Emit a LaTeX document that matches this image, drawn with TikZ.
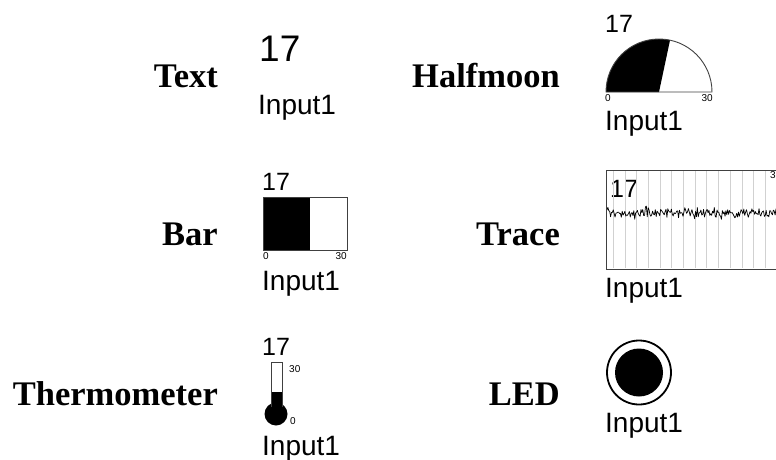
\documentclass[tikz,border=0pt]{standalone}
\usepackage{fontspec}
\setmainfont{Liberation Serif}
\newfontfamily\wfont{Liberation Sans}
\begin{document}
\begin{tikzpicture}[x=1pt,y=-1pt,
  kind/.style={font=\fontsize{34.5}{37}\selectfont\bfseries, anchor=base east, inner sep=0pt},
  bigval/.style={font=\wfont\fontsize{37}{40}\selectfont, anchor=base west, inner sep=0pt},
  val/.style={font=\wfont\fontsize{25}{28}\selectfont, anchor=base west, inner sep=0pt},
  chan/.style={font=\wfont\fontsize{28}{30}\selectfont, anchor=base west, inner sep=0pt},
  tick/.style={font=\wfont\fontsize{10}{11}\selectfont, inner sep=0pt},
  frame/.style={draw=black!75, line width=0.9pt},
  grid line/.style={draw=black!18, line width=1pt}]
\useasboundingbox (0,0) rectangle (776,460);

% ---- labels ----
\node[kind] (lText) at (218,88) {Text};
\node[kind] (lBar) at (218,245) {Bar};
\node[kind] (lTherm) at (218,405) {Thermometer};
\node[kind] (lHalf) at (560,88) {Halfmoon};
\node[kind] (lTrace) at (560,245) {Trace};
\node[kind] (lLed) at (560,405) {LED};

% ---- Text widget ----
\node[bigval] (tVal) at (259,62) {17};
\node[chan] (tIn) at (258,114) {Input1};

% ---- Halfmoon widget (y axis points down, so angles are negated) ----
\node[val] (hVal) at (605,33) {17};
\coordinate (hc) at (659,92);
\fill[black] (hc) -- ++(-78:53) arc[start angle=-78, end angle=-180, radius=53] -- cycle;
\draw[frame] (606,92) arc[start angle=-180, end angle=0, radius=53] -- cycle;
\node[tick, anchor=north west] (h0) at (605,94) {0};
\node[tick, anchor=north east] (h30) at (713,94) {30};
\node[chan] (hIn) at (605,130) {Input1};

% ---- Bar widget ----
\node[val] (bVal) at (262,190) {17};
\fill[black] (263,197) rectangle (310,250);
\draw[frame] (263,197) rectangle (347,250);
\node[tick, anchor=north west] (b0) at (263,252) {0};
\node[tick, anchor=north east] (b30) at (347,252) {30};
\node[chan] (bIn) at (262,290) {Input1};

% ---- Trace widget ----
\node[val] (trVal) at (610,197) {17};
\begin{scope}
  \clip (600,160) rectangle (776,275);
  \foreach \k in {0,...,14}
    \draw[grid line] ({613.3+11.7*\k},171) -- ({613.3+11.7*\k},268);
  \pgfmathsetseed{17}
  \draw[black, line width=0.7pt, line join=round]
    plot[domain=607:776, samples=190]
      (\x, {213 + 3.5*rand + 5*rand*rand});
  \draw[frame] (606,170) rectangle (790,269);
  \node[tick, anchor=north west] (tr30) at (770,171) {30};
\end{scope}
\node[chan] (trIn) at (605,297) {Input1};

% ---- Thermometer widget ----
\node[val] (thVal) at (262,355) {17};
\fill[black] (271,392) rectangle (282,408);
\fill[black] (276,414) circle[radius=11.5];
\draw[frame] (271,407) -- (271,362) -- (282,362) -- (282,407);
\node[tick, anchor=west] (th30) at (289,369) {30};
\node[tick, anchor=west] (th0) at (290,421) {0};
\node[chan] (thIn) at (262,455) {Input1};

% ---- LED widget ----
\node[draw=black, line width=1.8pt, circle, minimum size=64pt, inner sep=0pt] (ledRing) at (639,372.5) {};
\node[fill=black, circle, minimum size=48pt, inner sep=0pt] (ledDot) at (ledRing.center) {};
\node[chan] (ledIn) at (605,432) {Input1};
\end{tikzpicture}
\end{document}
